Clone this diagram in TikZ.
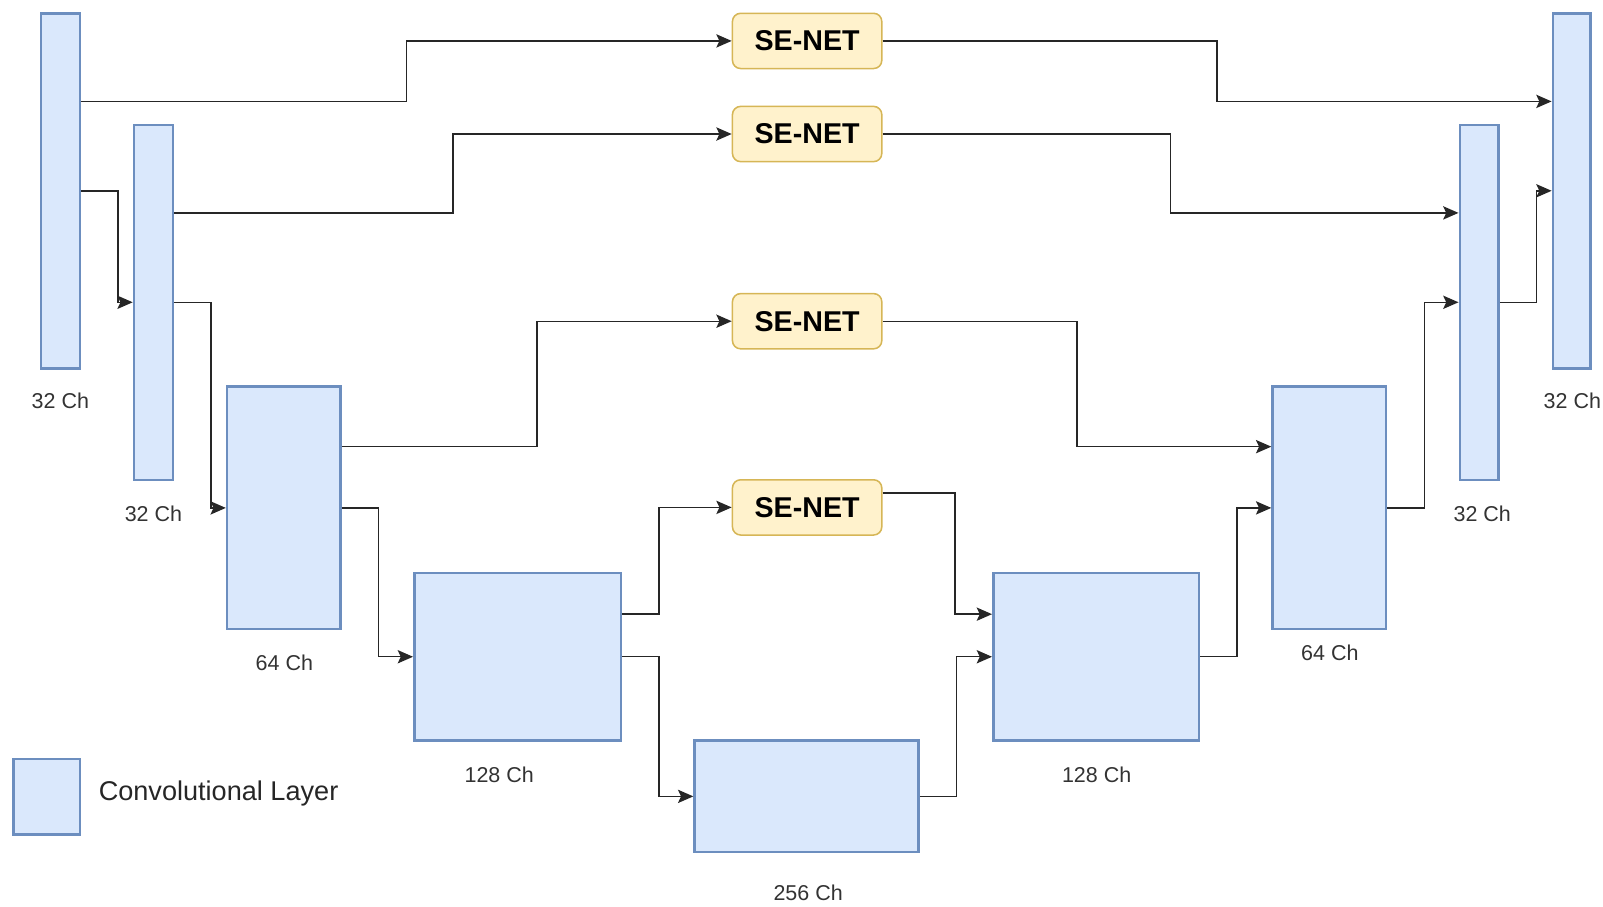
\documentclass[tikz,border=0pt]{standalone}
\usepackage{fontspec}
\setmainfont{Liberation Sans}
\usetikzlibrary{arrows.meta,calc,positioning}
\definecolor{convfill}{HTML}{DAE8FC}
\definecolor{convdraw}{HTML}{6C8EBF}
\definecolor{sefill}{HTML}{FFF2CC}
\definecolor{sedraw}{HTML}{D6B656}
\begin{document}
\begin{tikzpicture}[x=1pt,y=-1pt,
  conv/.style={draw=convdraw,fill=convfill,line width=2.5pt,inner sep=0pt},
  senet/.style={draw=sedraw,fill=sefill,line width=1.5pt,rounded corners=8pt,
    minimum width=146pt,minimum height=54pt,inner sep=0pt,
    font=\fontsize{28}{32}\selectfont\bfseries},
  chlabel/.style={font=\fontsize{21}{25}\selectfont,text=black!80},
  link/.style={draw=black!85,line width=1.4pt,
    -{Stealth[length=15pt,width=13pt,inset=3pt]}}]
\useasboundingbox (0,0) rectangle (1567,886);
% encoder
\node[conv,minimum width=38pt,minimum height=347pt] (e1) at (59,186.5) {};
\node[conv,minimum width=38pt,minimum height=347pt] (e2) at (150,295.5) {};
\node[conv,minimum width=111pt,minimum height=237pt] (e3) at (277.5,496.5) {};
\node[conv,minimum width=202pt,minimum height=164pt] (e4) at (506,642) {};
% bottleneck
\node[conv,minimum width=219pt,minimum height=109pt] (bott) at (788.5,778.5) {};
% decoder
\node[conv,minimum width=201pt,minimum height=164pt] (d4) at (1071.5,642) {};
\node[conv,minimum width=111pt,minimum height=237pt] (d3) at (1299.5,496.5) {};
\node[conv,minimum width=38pt,minimum height=347pt] (d2) at (1446,295.5) {};
\node[conv,minimum width=37pt,minimum height=347pt] (d1) at (1536.5,186.5) {};
% se blocks
\node[senet] (s1) at (789,40) {SE-NET};
\node[senet] (s2) at (789,131) {SE-NET};
\node[senet] (s3) at (789,314) {SE-NET};
\node[senet] (s4) at (789,496) {SE-NET};
% channel labels
\node[chlabel] (l1) at (59,392) {32 Ch};
\node[chlabel] (l2) at (150,502) {32 Ch};
\node[chlabel] (l3) at (278,648) {64 Ch};
\node[chlabel] (l4) at (488,757) {128 Ch};
\node[chlabel] (l5) at (790,873) {256 Ch};
\node[chlabel] (l6) at (1072,757) {128 Ch};
\node[chlabel] (l7) at (1300,638) {64 Ch};
\node[chlabel] (l8) at (1449,502) {32 Ch};
\node[chlabel] (l9) at (1537,392) {32 Ch};
% legend
\node[conv,minimum width=65pt,minimum height=74pt] (key) at (45.5,779) {};
\node[anchor=west,font=\fontsize{26.5}{31}\selectfont,text=black!85] (keytext) at (93,776) {Convolutional Layer};
% main path
\foreach \a/\b in {e1/e2,e2/e3,e3/e4,e4/bott,bott/d4,d4/d3,d3/d2,d2/d1}
  \draw[link] (\a.east) -- ++(36,0) |- (\b.west);
% skip connections
\foreach \a/\s/\b in {e1/s1/d1,e2/s2/d2,e3/s3/d3}{
  \coordinate (src) at ($(\a.north east)!.25!(\a.south east)$);
  \coordinate (dst) at ($(\b.north west)!.25!(\b.south west)$);
  \coordinate (mida) at ($(\a.east)!.5!(\s.west)$);
  \coordinate (midb) at ($(\s.east)!.5!(\b.west)$);
  \draw[link] (src) -| (mida |- \s.west) -- (\s.west);
  \draw[link] (\s.east) -| (midb |- dst) -- (dst);
}
\coordinate (src4) at ($(e4.north east)!.25!(e4.south east)$);
\coordinate (dst4) at ($(d4.north west)!.25!(d4.south west)$);
\draw[link] (src4) -- ++(36,0) |- (s4.west);
\draw[link] ($(s4.north east)!.25!(s4.south east)$) -| ($(dst4)+(-36,0)$) -- (dst4);
\end{tikzpicture}
\end{document}
